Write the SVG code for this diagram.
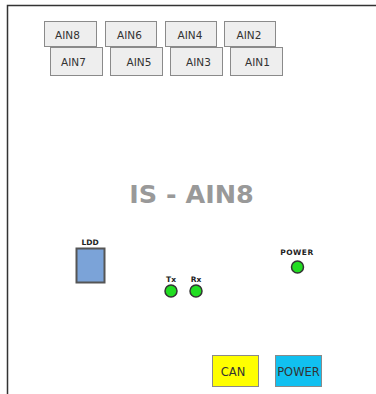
<svg xmlns="http://www.w3.org/2000/svg" width="376" height="394" viewBox="0 0 376 394">
<style>
.ain rect{fill:#eeeeee;stroke:#8a8a8a;stroke-width:1}
.ain text{font-family:"DejaVu Sans",Verdana,sans-serif;font-size:10.5px;fill:#333;text-anchor:middle}
.lbl{font-family:"DejaVu Sans",Verdana,sans-serif;font-size:7.5px;font-weight:bold;fill:#222;text-anchor:middle}
.led{fill:#22dd22;stroke:#333;stroke-width:1.5}
.btn{font-family:"DejaVu Sans",Verdana,sans-serif;font-size:11.5px;fill:#333;text-anchor:middle}
</style>
<rect width="376" height="394" fill="#ffffff"/>
<g id="frame" fill="none" stroke="#333" stroke-width="1.5">
<path d="M7.5,394 V5.5 H376"/>
</g>
<g id="AIN8" class="ain"><rect x="44.5" y="21.5" width="52" height="25"/><text x="67.5" y="38.5">AIN8</text></g>
<g id="AIN6" class="ain"><rect x="105.5" y="21.5" width="51" height="25"/><text x="129.5" y="38.5">AIN6</text></g>
<g id="AIN4" class="ain"><rect x="165.5" y="21.5" width="51" height="25"/><text x="190" y="38.5">AIN4</text></g>
<g id="AIN2" class="ain"><rect x="224.5" y="21.5" width="51" height="25"/><text x="249" y="38.5">AIN2</text></g>
<g id="AIN7" class="ain"><rect x="50.5" y="47.5" width="52" height="28"/><text x="73.5" y="65.5">AIN7</text></g>
<g id="AIN5" class="ain"><rect x="110.5" y="47.5" width="52" height="28"/><text x="139" y="65.5">AIN5</text></g>
<g id="AIN3" class="ain"><rect x="170.5" y="47.5" width="52" height="28"/><text x="198.5" y="65.5">AIN3</text></g>
<g id="AIN1" class="ain"><rect x="230.5" y="47.5" width="52" height="28"/><text x="257.5" y="65.5">AIN1</text></g>
<g id="title"><text x="191.5" y="203" font-family="'DejaVu Sans',Verdana,sans-serif" font-size="25.5" font-weight="bold" fill="#999999" text-anchor="middle">IS - AIN8</text></g>
<g id="LDD"><text class="lbl" x="90" y="244.5">LDD</text><rect x="76.5" y="248.5" width="28" height="34" fill="#7ba3d8" stroke="#555" stroke-width="2"/></g>
<g id="Tx"><text class="lbl" x="171" y="281.5">Tx</text><circle class="led" cx="171" cy="291" r="6"/></g>
<g id="Rx"><text class="lbl" x="196" y="281.5">Rx</text><circle class="led" cx="196" cy="291" r="6"/></g>
<g id="POWER-LED"><text class="lbl" x="297" y="255" font-size="8" letter-spacing="0.5">POWER</text><circle class="led" cx="297.5" cy="267" r="6"/></g>
<g id="CAN"><rect x="212.5" y="355.5" width="46" height="31" fill="#ffff00" stroke="#8a8a8a"/><text class="btn" x="233" y="376">CAN</text></g>
<g id="POWER"><rect x="275.5" y="355.5" width="46" height="31" fill="#11c0f0" stroke="#8a8a8a"/><text class="btn" x="298.5" y="376">POWER</text></g>
<g id="connectors"></g>
</svg>
